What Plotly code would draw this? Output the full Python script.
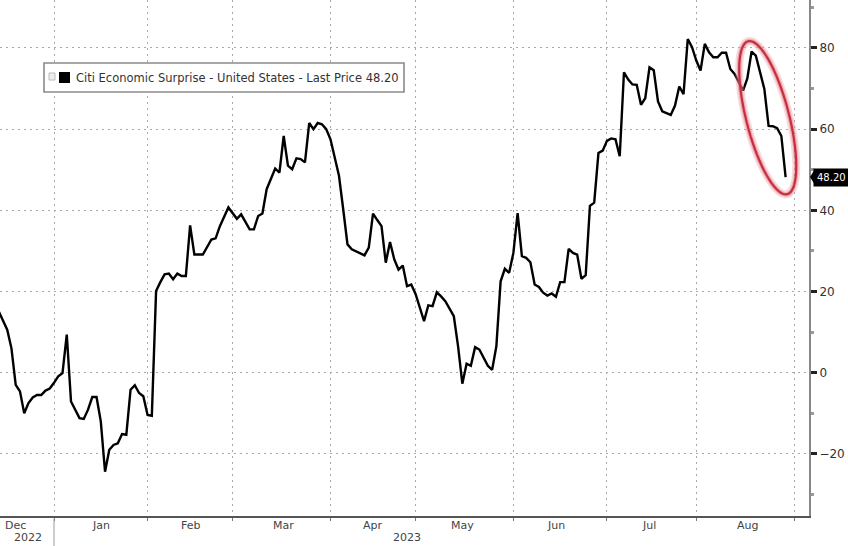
import math
import plotly.graph_objects as go

# ---------------- data ----------------
dates = [
    "2022-12-14", "2022-12-16", "2022-12-19", "2022-12-20", "2022-12-21", "2022-12-22",
    "2022-12-23", "2022-12-26", "2022-12-27", "2022-12-28", "2022-12-29", "2022-12-30",
    "2023-01-02", "2023-01-03", "2023-01-04", "2023-01-05", "2023-01-06", "2023-01-09",
    "2023-01-10", "2023-01-11", "2023-01-12", "2023-01-13", "2023-01-16", "2023-01-17",
    "2023-01-18", "2023-01-19", "2023-01-20", "2023-01-23", "2023-01-24", "2023-01-25",
    "2023-01-26", "2023-01-27", "2023-01-30", "2023-01-31",
    "2023-02-01", "2023-02-02", "2023-02-03", "2023-02-06", "2023-02-07", "2023-02-08",
    "2023-02-09", "2023-02-10", "2023-02-13", "2023-02-14", "2023-02-15", "2023-02-16",
    "2023-02-20", "2023-02-22", "2023-02-23", "2023-02-24", "2023-02-28",
    "2023-03-02", "2023-03-03", "2023-03-07", "2023-03-08", "2023-03-09", "2023-03-10",
    "2023-03-13", "2023-03-14", "2023-03-15", "2023-03-16", "2023-03-17", "2023-03-20",
    "2023-03-21", "2023-03-22", "2023-03-23", "2023-03-24", "2023-03-27", "2023-03-28",
    "2023-03-29", "2023-03-30", "2023-03-31",
    "2023-04-03", "2023-04-04", "2023-04-05", "2023-04-06", "2023-04-07", "2023-04-10",
    "2023-04-12", "2023-04-13", "2023-04-14", "2023-04-17", "2023-04-18", "2023-04-19",
    "2023-04-20", "2023-04-21", "2023-04-24", "2023-04-25", "2023-04-26", "2023-04-27",
    "2023-04-28",
    "2023-05-01", "2023-05-03", "2023-05-04", "2023-05-05", "2023-05-08", "2023-05-09",
    "2023-05-10", "2023-05-12", "2023-05-15", "2023-05-16", "2023-05-17", "2023-05-18",
    "2023-05-19", "2023-05-22", "2023-05-23", "2023-05-24", "2023-05-25", "2023-05-26",
    "2023-05-29", "2023-05-30", "2023-05-31",
    "2023-06-01", "2023-06-02", "2023-06-05", "2023-06-06", "2023-06-07", "2023-06-08",
    "2023-06-09", "2023-06-12", "2023-06-13", "2023-06-14", "2023-06-15", "2023-06-16",
    "2023-06-19", "2023-06-20", "2023-06-21", "2023-06-22", "2023-06-23", "2023-06-26",
    "2023-06-27", "2023-06-28", "2023-06-29", "2023-06-30",
    "2023-07-03", "2023-07-04", "2023-07-05", "2023-07-06", "2023-07-07", "2023-07-10",
    "2023-07-11", "2023-07-12", "2023-07-13", "2023-07-14", "2023-07-17", "2023-07-18",
    "2023-07-19", "2023-07-20", "2023-07-21", "2023-07-24", "2023-07-25", "2023-07-26",
    "2023-07-27", "2023-07-28", "2023-07-31",
    "2023-08-01", "2023-08-02", "2023-08-03", "2023-08-04", "2023-08-07", "2023-08-08",
    "2023-08-09", "2023-08-10", "2023-08-11", "2023-08-14", "2023-08-15", "2023-08-16",
    "2023-08-17", "2023-08-18", "2023-08-21", "2023-08-22", "2023-08-23", "2023-08-24",
    "2023-08-25", "2023-08-28", "2023-08-29", "2023-08-30",
]
values = [
    15.1, 10.6, 6.0, -3.0, -4.6, -10.0,
    -7.5, -6.1, -5.5, -5.5, -4.4, -3.9,
    -2.5, -0.9, -0.1, 9.4, -7.1, -9.1,
    -11.2, -11.4, -9.1, -6.0, -6.0, -12.0,
    -24.4, -19.0, -17.8, -17.4, -15.1, -15.3,
    -4.2, -3.1, -5.0, -5.8,
    -10.4, -10.6, 20.1, 22.3, 24.2, 24.4,
    23.0, 24.4, 23.8, 23.8, 36.3, 29.1,
    29.1, 32.8, 33.1, 36.1, 40.7,
    37.9, 39.0, 35.3, 35.3, 38.6, 39.2,
    45.2, 47.7, 50.3, 49.3, 58.3, 51.0,
    50.1, 52.8, 52.6, 51.8, 61.5, 60.0,
    61.5, 61.2, 60.0,
    57.5, 52.6, 48.5, 40.2, 31.6, 30.4,
    29.5, 28.9, 30.8, 39.2, 37.6, 36.1,
    27.1, 32.2, 27.9, 25.4, 26.4, 21.3,
    21.7,
    19.4, 12.7, 16.6, 16.4, 19.8, 18.8,
    17.6, 13.9, 6.5, -2.7, 2.2, 1.7,
    6.3, 5.7, 3.6, 1.7, 0.7, 6.5,
    22.5, 25.6, 24.6,
    29.5, 39.3, 28.7, 28.3, 27.2, 21.7,
    21.1, 19.7, 19.0, 19.5, 18.7, 22.3,
    22.3, 30.5, 29.5, 29.1, 23.1, 24.0,
    41.1, 41.9, 54.1, 54.7,
    57.1, 57.7, 57.5, 53.3, 74.0, 72.2,
    71.0, 70.9, 66.0, 67.6, 75.2, 74.5,
    66.8, 64.4, 64.0, 63.5, 65.8, 70.5,
    68.6, 82.2, 80.2,
    76.9, 74.4, 81.0, 78.9, 77.7, 77.7,
    78.8, 78.8, 74.8, 73.6, 71.4, 69.5,
    72.5, 79.1, 78.1, 74.0, 69.9, 60.8,
    60.7, 60.2, 58.3, 48.2,
]

series_name = "Citi Economic Surprise - United States - Last Price 48.20"
last_price_label = "48.20"
last_price = 48.2

y_tickvals = [-20, 0, 20, 40, 60, 80]
month_starts = ["2023-01-02", "2023-02-01", "2023-03-01", "2023-04-03", "2023-05-01",
                "2023-06-01", "2023-07-03", "2023-08-01", "2023-09-01"]
month_labels = ["Dec", "Jan", "Feb", "Mar", "Apr", "May", "Jun", "Jul", "Aug"]
month_label_dates = ["2022-12-20", "2023-01-17", "2023-02-15", "2023-03-17", "2023-04-17",
                     "2023-05-16", "2023-06-15", "2023-07-17", "2023-08-17"]
year_labels = ["2022", "2023"]
year_label_dates = ["2022-12-23", "2023-04-27"]

# highlight ellipse (centre in data units)
ellipse_center_date = "2023-08-23 19:00"
ellipse_center_value = 62.8

# ---------------- figure ----------------
fig = go.Figure()
fig.add_trace(go.Scatter(
    x=dates, y=values, mode="lines",
    line=dict(color="#000000", width=2.4),
    showlegend=False, hoverinfo="skip",
))

W, H = 848, 546
ML, MR, MT, MB = 0, 39, 0, 30
PW, PH = W - ML - MR, H - MT - MB


def px(xp):
    return (xp - ML) / PW


def py(yp):
    return 1 - (yp - MT) / PH


font_main = "DejaVu Sans"
grid_col = "#a8a8a8"
grid_dash = "2px,4px"

shapes = []

# ellipse (pixel-sized path anchored at a data point)
a, b = 79.0, 21.5
ux, uy = 0.247, -0.968      # major axis direction (pixel space, y up)
wx, wy = 0.968, 0.247
pts = []
for i in range(73):
    t = 2 * math.pi * i / 72
    ex = a * math.cos(t) * ux + b * math.sin(t) * wx
    ey = a * math.cos(t) * uy + b * math.sin(t) * wy
    pts.append((ex, ey))
path = "M " + " L ".join(f"{p[0]:.2f},{p[1]:.2f}" for p in pts) + " Z"
for lw, col in [(8, "rgba(235,150,160,0.35)"), (4.5, "rgba(225,110,120,0.45)"), (2.2, "#c4303f")]:
    shapes.append(dict(
        type="path", path=path, xref="x", yref="y",
        xsizemode="pixel", ysizemode="pixel",
        xanchor=ellipse_center_date, yanchor=ellipse_center_value,
        line=dict(color=col, width=lw), fillcolor="rgba(0,0,0,0)", layer="above",
    ))

# legend box
shapes.append(dict(type="rect", xref="paper", yref="paper",
                   x0=px(44), x1=px(404), y0=py(92), y1=py(63),
                   line=dict(color="#8a8a8a", width=1.6), fillcolor="white", layer="above"))
shapes.append(dict(type="rect", xref="paper", yref="paper",
                   x0=px(49), x1=px(55), y0=py(80), y1=py(73),
                   line=dict(color="#bbbbbb", width=1), fillcolor="#eeeeee", layer="above"))
shapes.append(dict(type="rect", xref="paper", yref="paper",
                   x0=px(59), x1=px(70), y0=py(83), y1=py(72),
                   line=dict(color="#000000", width=0), fillcolor="#000000", layer="above"))

# last price pointer triangle
shapes.append(dict(type="path", xref="paper", yref="y",
                   xsizemode="pixel", ysizemode="pixel",
                   xanchor=1, yanchor=last_price,
                   path="M 1,0 L 6,8 L 6,-8 Z",
                   line=dict(width=0), fillcolor="#000000", layer="above"))

# year separator
shapes.append(dict(type="line", xref="paper", yref="paper",
                   x0=px(54), x1=px(54), y0=py(519), y1=py(546),
                   line=dict(color="#999999", width=1)))

annotations = []
annotations.append(dict(
    text=series_name, xref="paper", yref="paper", x=px(74), y=py(77.5),
    xanchor="left", yanchor="middle", showarrow=False,
    font=dict(family=font_main, size=11.5, color="#333333"),
))
annotations.append(dict(
    text=last_price_label, xref="paper", yref="y", x=1, y=last_price,
    xanchor="left", yanchor="middle", xshift=4, showarrow=False,
    bgcolor="#000000", borderpad=3,
    font=dict(family=font_main, size=10, color="#ffffff"),
))
for lab, d in zip(month_labels, month_label_dates):
    annotations.append(dict(
        text=lab, xref="x", yref="paper", x=d, y=py(517), yanchor="top",
        showarrow=False, font=dict(family=font_main, size=11, color="#444444"),
    ))
for lab, d in zip(year_labels, year_label_dates):
    annotations.append(dict(
        text=lab, xref="x", yref="paper", x=d, y=py(529), yanchor="top",
        showarrow=False, font=dict(family=font_main, size=11, color="#444444"),
    ))

fig.update_layout(
    width=W, height=H,
    margin=dict(l=ML, r=MR, t=MT, b=MB),
    paper_bgcolor="white", plot_bgcolor="white",
    shapes=shapes, annotations=annotations,
    showlegend=False,
)
fig.update_xaxes(
    type="date",
    range=["2022-12-14 07:20", "2023-09-06 12:00"],
    rangebreaks=[dict(bounds=["sat", "mon"])],
    tickmode="array", tickvals=month_starts, showticklabels=False,
    showgrid=True, gridcolor=grid_col, griddash=grid_dash, gridwidth=1,
    showline=True, linecolor="#555555", linewidth=1.5,
    ticks="outside", ticklen=3, tickcolor="#777777",
    zeroline=False, fixedrange=True,
)
fig.update_yaxes(
    side="right", range=[-35.3, 91.8],
    tickmode="array", tickvals=y_tickvals,
    showgrid=True, gridcolor=grid_col, griddash=grid_dash, gridwidth=1,
    showline=True, linecolor="#888888", linewidth=2,
    ticks="outside", ticklen=6, tickwidth=3, tickcolor="#222222",
    tickfont=dict(family=font_main, size=12, color="#333333"),
    minor=dict(tickmode="linear", dtick=10, tick0=0, ticks="outside", ticklen=3,
               tickcolor="#999999", showgrid=False),
    zeroline=False, fixedrange=True,
)

fig.write_html(
    "out.html",
    config={"displayModeBar": False},
    post_script="document.body.style.margin='0';document.body.style.overflow='hidden';",
)
